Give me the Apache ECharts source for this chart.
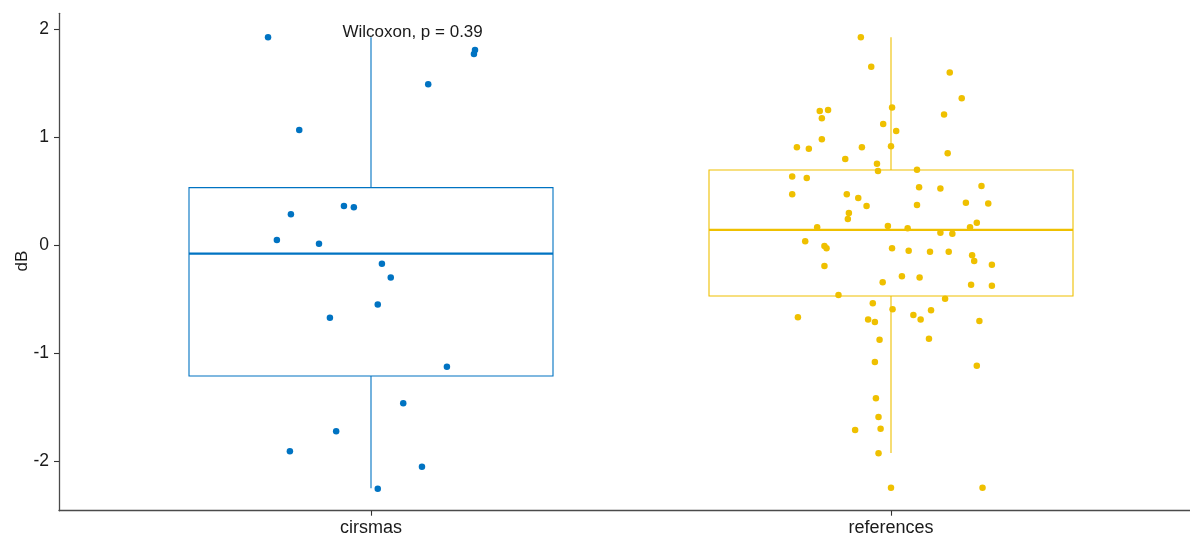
<!DOCTYPE html>
<html>
<head>
<meta charset="utf-8">
<script src="https://cdn.jsdelivr.net/npm/echarts@6/dist/echarts.min.js"></script>
<style>
html, body { margin: 0; padding: 0; background: #fff; }
#chart { width: 1190px; height: 537px; }
</style>
</head>
<body>
<div id="chart"></div>
<script>
// Groups and their colours
const groups = ['cirsmas', 'references'];
const groupColors = ['#0073C2', '#EFC000'];
const yTicks = [-2, -1, 0, 1, 2];
const yTitle = 'dB';
const testLabel = 'Wilcoxon, p = 0.39';

// Box summaries: [lower whisker, Q1, median, Q3, upper whisker]
const cirsmasBox = [-2.252, -1.213, -0.080, 0.531, 1.923];
const referencesBox = [-1.925, -0.472, 0.139, 0.694, 1.923];

// Observations (dB) and their horizontal jitter offsets
const cirsmasValues = [1.923, 1.806, 1.769, 1.488, 1.065, 0.361, 0.349, 0.284, 0.046, 0.012,
  -0.173, -0.302, -0.552, -0.673, -1.127, -1.466, -1.725, -1.910, -2.052, -2.256];
const cirsmasJitter = [-0.198, 0.200, 0.198, 0.110, -0.138, -0.052, -0.033, -0.154, -0.181, -0.100,
  0.021, 0.038, 0.013, -0.079, 0.146, 0.062, -0.067, -0.156, 0.098, 0.013];

const referencesValues = [1.923, 1.651, 1.596, 1.358, 1.241, 1.250, 1.272, 1.173, 1.207, 1.120,
  1.056, 0.978, 0.904, 0.892, 0.904, 0.914, 0.849, 0.796, 0.753, 0.685,
  0.697, 0.633, 0.620, 0.534, 0.522, 0.546, 0.469, 0.469, 0.435, 0.361,
  0.370, 0.392, 0.383, 0.296, 0.241, 0.207, 0.164, 0.176, 0.154, 0.164,
  0.114, 0.105, 0.034, -0.009, -0.031, -0.031, -0.053, -0.062, -0.062, -0.096,
  -0.148, -0.182, -0.194, -0.290, -0.302, -0.346, -0.367, -0.377, -0.463, -0.497,
  -0.540, -0.596, -0.605, -0.648, -0.691, -0.670, -0.691, -0.713, -0.704, -0.867,
  -0.877, -1.083, -1.117, -1.420, -1.593, -1.701, -1.713, -1.929, -2.247, -2.247];
const referencesJitter = [-0.058, -0.038, 0.113, 0.136, -0.137, -0.121, 0.002, -0.133, 0.102, -0.015,
  0.010, -0.133, -0.181, -0.158, -0.056, 0.000, 0.109, -0.088, -0.027, -0.025,
  0.050, -0.190, -0.162, 0.054, 0.095, 0.174, -0.190, -0.085, -0.063, -0.047,
  0.050, 0.144, 0.187, -0.081, -0.083, 0.165, -0.142, -0.006, 0.032, 0.152,
  0.095, 0.118, -0.165, -0.128, -0.124, 0.002, 0.034, 0.075, 0.111, 0.156,
  0.160, 0.194, -0.128, 0.021, 0.055, -0.016, 0.154, 0.194, -0.101, 0.104,
  -0.035, 0.003, 0.077, 0.043, 0.057, -0.179, -0.044, -0.031, 0.170, 0.073,
  -0.022, -0.031, 0.165, -0.029, -0.024, -0.020, -0.069, -0.024, 0.000, 0.176];

const boxWidth = 0.7;
const textColor = '#1a1a1a';
const fontFamily = 'Liberation Sans, Arial, sans-serif';

const boxes = [cirsmasBox, referencesBox].map((b, i) => [i + 1].concat(b));

function renderBox(params, api) {
  const pos = api.value(0);
  const lo = api.value(1), q1 = api.value(2), med = api.value(3), q3 = api.value(4), hi = api.value(5);
  const color = groupColors[params.dataIndex];
  const tl = api.coord([pos - boxWidth / 2, q3]);
  const br = api.coord([pos + boxWidth / 2, q1]);
  const mL = api.coord([pos - boxWidth / 2, med]);
  const mR = api.coord([pos + boxWidth / 2, med]);
  const top = api.coord([pos, hi]);
  const bot = api.coord([pos, lo]);
  const stroke = { stroke: color, lineWidth: 1.1, fill: null };
  return {
    type: 'group',
    children: [
      { type: 'line', shape: { x1: top[0], y1: top[1], x2: top[0], y2: tl[1] }, style: stroke },
      { type: 'line', shape: { x1: bot[0], y1: br[1], x2: bot[0], y2: bot[1] }, style: stroke },
      { type: 'rect', shape: { x: tl[0], y: tl[1], width: br[0] - tl[0], height: br[1] - tl[1] },
        style: { stroke: color, lineWidth: 1.1, fill: '#fff' } },
      { type: 'line', shape: { x1: mL[0], y1: mL[1], x2: mR[0], y2: mR[1] },
        style: { stroke: color, lineWidth: 2.2 } }
    ]
  };
}

function points(values, jitter, idx) {
  return values.map((v, k) => [idx + 1 + jitter[k], v]);
}

const chart = echarts.init(document.getElementById('chart'), null, { renderer: 'canvas' });
chart.setOption({
  animation: false,
  backgroundColor: '#fff',
  grid: { left: 59, top: 13.3, width: 1144, height: 497.4, containLabel: false, outerBoundsMode: 'none' },
  graphic: [{
    type: 'text', x: 22.5, y: 261, rotation: Math.PI / 2, silent: true,
    style: { text: yTitle, fill: textColor, fontSize: 17, fontFamily: fontFamily,
      align: 'center', verticalAlign: 'middle' }
  }],
  xAxis: {
    type: 'value', min: 0.4, max: 2.6,
    splitLine: { show: false },
    axisLine: { show: true, onZero: false, lineStyle: { color: '#4a4a4a', width: 1.3 } },
    axisTick: { show: true, customValues: [1, 2], length: 5, lineStyle: { color: '#333', width: 1.1 } },
    axisLabel: {
      customValues: [1, 2], margin: 8,
      formatter: v => groups[Math.round(v) - 1] || '',
      color: textColor, fontSize: 18, fontFamily: fontFamily
    }
  },
  yAxis: {
    type: 'value', min: -2.46, max: 2.145,
    splitLine: { show: false },
    axisLine: { show: true, onZero: false, lineStyle: { color: '#4a4a4a', width: 1.3 } },
    axisTick: { show: true, customValues: yTicks, length: 5, lineStyle: { color: '#333', width: 1.1 } },
    axisLabel: {
      customValues: yTicks, margin: 10,
      color: textColor, fontSize: 17.5, fontFamily: fontFamily
    }
  },
  series: [
    { type: 'custom', renderItem: renderBox, data: boxes, z: 2, silent: true },
    { type: 'scatter', data: points(cirsmasValues, cirsmasJitter, 0), symbolSize: 6.5,
      itemStyle: { color: groupColors[0], opacity: 1 }, z: 3 },
    { type: 'scatter', data: points(referencesValues, referencesJitter, 1), symbolSize: 6.5,
      itemStyle: { color: groupColors[1], opacity: 1 }, z: 3 },
    { type: 'scatter', data: [[1.08, 1.972]], symbolSize: 0, z: 4, silent: true,
      itemStyle: { opacity: 1 },
      label: { show: true, position: 'inside', formatter: testLabel,
        color: textColor, fontSize: 17, fontFamily: fontFamily } }
  ]
});
</script>
</body>
</html>
